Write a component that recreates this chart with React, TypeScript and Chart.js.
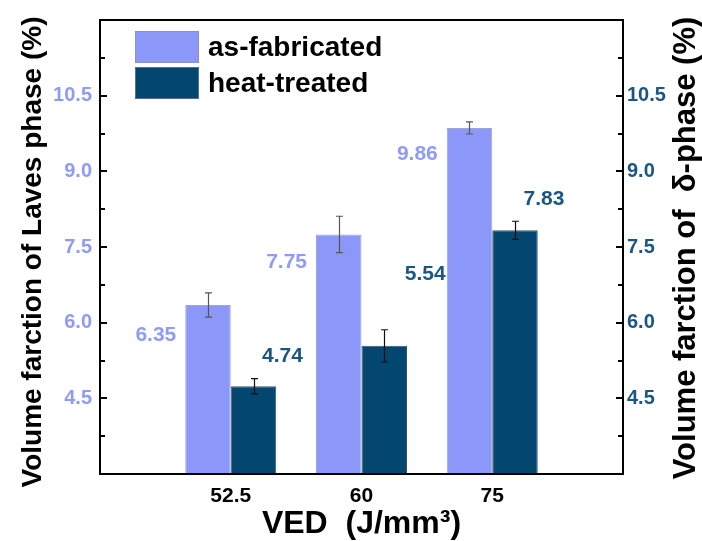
import React, { useEffect, useRef } from 'react';
import { Chart, registerables } from 'chart.js';

Chart.register(...registerables);

// ---- data ----
const categories = ['52.5', '60', '75'];
const seriesNames = ['as-fabricated', 'heat-treated'];
const asFabricated = [6.35, 7.75, 9.86];
const heatTreated = [4.74, 5.54, 7.83];
const asFabricatedErr = [0.24, 0.36, 0.12];
const heatTreatedErr = [0.15, 0.32, 0.18];
const yMin = 3;
const yMax = 12;
const yStep = 0.75;
const yLabelTicks = [4.5, 6.0, 7.5, 9.0, 10.5];

// ---- style ----
const FONT = '"Liberation Sans", Arial, Helvetica, sans-serif';
const C_AF = '#8C97FA';
const C_HT = '#03466F';
const C_AF_TEXT = '#8E9CF7';
const C_HT_TEXT = '#1B5583';
// pixel offsets of value labels relative to bar top (style only)
const afLabelDy = [30, 28, 26];
const htLabelOffset = [
  [29, -30],
  [41, -72],
  [29, -31],
];

const isLabelTick = (v: number) => yLabelTicks.some((m) => Math.abs(m - v) < 1e-6);

const overlay = {
  id: 'overlay',
  afterDatasetsDraw(chart: any) {
    const ctx = chart.ctx;
    ctx.save();
    const errs = [asFabricatedErr, heatTreatedErr];
    const vals = [asFabricated, heatTreated];
    const colors = ['#555555', '#111111'];
    for (let d = 0; d < 2; d++) {
      const meta = chart.getDatasetMeta(d);
      const scale = chart.scales[meta.yAxisID];
      ctx.strokeStyle = colors[d];
      ctx.lineWidth = 1.2;
      vals[d].forEach((v, i) => {
        const bar = meta.data[i + 1];
        if (!bar) return;
        const x = Math.round(bar.x) + 0.5;
        const yt = scale.getPixelForValue(v + errs[d][i]);
        const yb = scale.getPixelForValue(v - errs[d][i]);
        ctx.beginPath();
        ctx.moveTo(x, yt);
        ctx.lineTo(x, yb);
        ctx.moveTo(x - 3.5, yt);
        ctx.lineTo(x + 3.5, yt);
        ctx.moveTo(x - 3.5, yb);
        ctx.lineTo(x + 3.5, yb);
        ctx.stroke();
      });
    }
    // value labels
    ctx.font = `bold 21px ${FONT}`;
    ctx.textBaseline = 'middle';
    const m0 = chart.getDatasetMeta(0);
    ctx.fillStyle = C_AF_TEXT;
    ctx.textAlign = 'right';
    asFabricated.forEach((v, i) => {
      const bar = m0.data[i + 1];
      ctx.fillText(v.toFixed(2), bar.x - bar.width / 2 - 9, bar.y + afLabelDy[i]);
    });
    const m1 = chart.getDatasetMeta(1);
    ctx.fillStyle = C_HT_TEXT;
    ctx.textAlign = 'center';
    heatTreated.forEach((v, i) => {
      const bar = m1.data[i + 1];
      ctx.fillText(v.toFixed(2), bar.x + htLabelOffset[i][0], bar.y + htLabelOffset[i][1]);
    });
    ctx.restore();
  },
  afterDraw(chart: any) {
    const ctx = chart.ctx;
    const ca = chart.chartArea;
    ctx.save();
    // frame
    ctx.strokeStyle = '#000';
    ctx.lineWidth = 2;
    ctx.strokeRect(ca.left, ca.top, ca.right - ca.left, ca.bottom - ca.top);
    // inward ticks
    ctx.lineWidth = 2;
    for (const id of ['y', 'y1']) {
      const s = chart.scales[id];
      const dir = id === 'y' ? 1 : -1;
      const x0 = id === 'y' ? ca.left : ca.right;
      s.ticks.forEach((t: any) => {
        if (t.value <= yMin + 1e-6 || t.value >= yMax - 1e-6) return;
        const len = isLabelTick(t.value) ? 7 : 5;
        const py = Math.round(s.getPixelForValue(t.value));
        ctx.beginPath();
        ctx.moveTo(x0, py);
        ctx.lineTo(x0 + dir * len, py);
        ctx.stroke();
      });
    }
    // legend
    const lx = 135;
    const ly = 31;
    const bw = 64;
    const bh = 32;
    const gap = 4;
    ctx.font = `bold 28px ${FONT}`;
    ctx.textAlign = 'left';
    ctx.textBaseline = 'middle';
    chart.data.datasets.forEach((ds: any, i: number) => {
      const y = ly + i * (bh + gap);
      ctx.fillStyle = ds.backgroundColor;
      ctx.fillRect(lx, y, bw, bh);
      ctx.strokeStyle = 'rgba(140,140,160,0.6)';
      ctx.lineWidth = 1;
      ctx.strokeRect(lx + 0.5, y + 0.5, bw - 1, bh - 1);
      ctx.fillStyle = '#000';
      ctx.fillText(ds.label, lx + bw + 9, y + bh / 2 + 1);
    });
    // axis titles
    ctx.fillStyle = '#000';
    ctx.textAlign = 'center';
    ctx.textBaseline = 'alphabetic';
    ctx.font = `bold 28px ${FONT}`;
    ctx.save();
    ctx.translate(41, 252);
    ctx.rotate(-Math.PI / 2);
    ctx.fillText('Volume farction of Laves phase (%)', 0, 0);
    ctx.restore();
    ctx.font = `bold 31px ${FONT}`;
    ctx.save();
    ctx.translate(695, 248);
    ctx.rotate(-Math.PI / 2);
    ctx.fillText('Volume farction of  \u03B4-phase (%)', 0, 0);
    ctx.restore();
    ctx.font = `bold 32px ${FONT}`;
    ctx.fillText('VED  (J/mm\u00B3)', (ca.left + ca.right) / 2, 533);
    ctx.restore();
  },
};

export default function App() {
  const ref = useRef<HTMLCanvasElement>(null);
  useEffect(() => {
    if (!ref.current) return;
    const labels = ['', ...categories, ''];
    const pad = (a: number[]) => [null, ...a, null];
    const yTicks = (color: string, padding: number) => ({
      stepSize: yStep,
      autoSkip: false,
      color,
      padding,
      font: { family: FONT, size: 20, weight: 'bold' as const },
      callback: (v: any) => (isLabelTick(Number(v)) ? Number(v).toFixed(1) : ''),
    });
    const chart = new Chart(ref.current, {
      type: 'bar',
      data: {
        labels,
        datasets: [
          {
            label: seriesNames[0],
            data: pad(asFabricated),
            backgroundColor: C_AF,
            borderColor: 'rgba(120,125,200,0.7)',
            borderWidth: 1,
            yAxisID: 'y',
            categoryPercentage: 0.696,
            barPercentage: 1.0,
          },
          {
            label: seriesNames[1],
            data: pad(heatTreated),
            backgroundColor: C_HT,
            borderColor: 'rgba(10,40,70,0.8)',
            borderWidth: 1,
            yAxisID: 'y1',
            categoryPercentage: 0.696,
            barPercentage: 1.0,
          },
        ],
      },
      options: {
        responsive: false,
        animation: false,
        devicePixelRatio: 1,
        layout: { padding: { top: 13, left: 0, right: 0, bottom: 0 } },
        plugins: { legend: { display: false }, tooltip: { enabled: false } },
        scales: {
          x: {
            type: 'category',
            offset: false,
            grid: { display: false, drawTicks: false },
            border: { display: true, color: '#000', width: 2 },
            ticks: {
              color: '#000',
              padding: 10,
              maxRotation: 0,
              autoSkip: false,
              font: { family: FONT, size: 21, weight: 'bold' },
            },
            afterFit: (s: any) => {
              s.height = 67;
            },
          },
          y: {
            type: 'linear',
            position: 'left',
            min: yMin,
            max: yMax,
            grid: { display: false, drawTicks: false },
            border: { display: true, color: '#000', width: 2 },
            ticks: yTicks(C_AF_TEXT, 8),
            afterFit: (s: any) => {
              s.width = 100;
            },
          },
          y1: {
            type: 'linear',
            position: 'right',
            min: yMin,
            max: yMax,
            grid: { display: false, drawTicks: false },
            border: { display: true, color: '#000', width: 2 },
            ticks: yTicks(C_HT_TEXT, 4),
            afterFit: (s: any) => {
              s.width = 79;
            },
          },
        },
      } as any,
      plugins: [overlay],
    });
    return () => chart.destroy();
  }, []);
  return (
    <div style={{ position: 'absolute', left: 0, top: 0, width: 702, height: 541, background: '#fff' }}>
      <canvas ref={ref} width={702} height={541} style={{ display: 'block' }} />
    </div>
  );
}
